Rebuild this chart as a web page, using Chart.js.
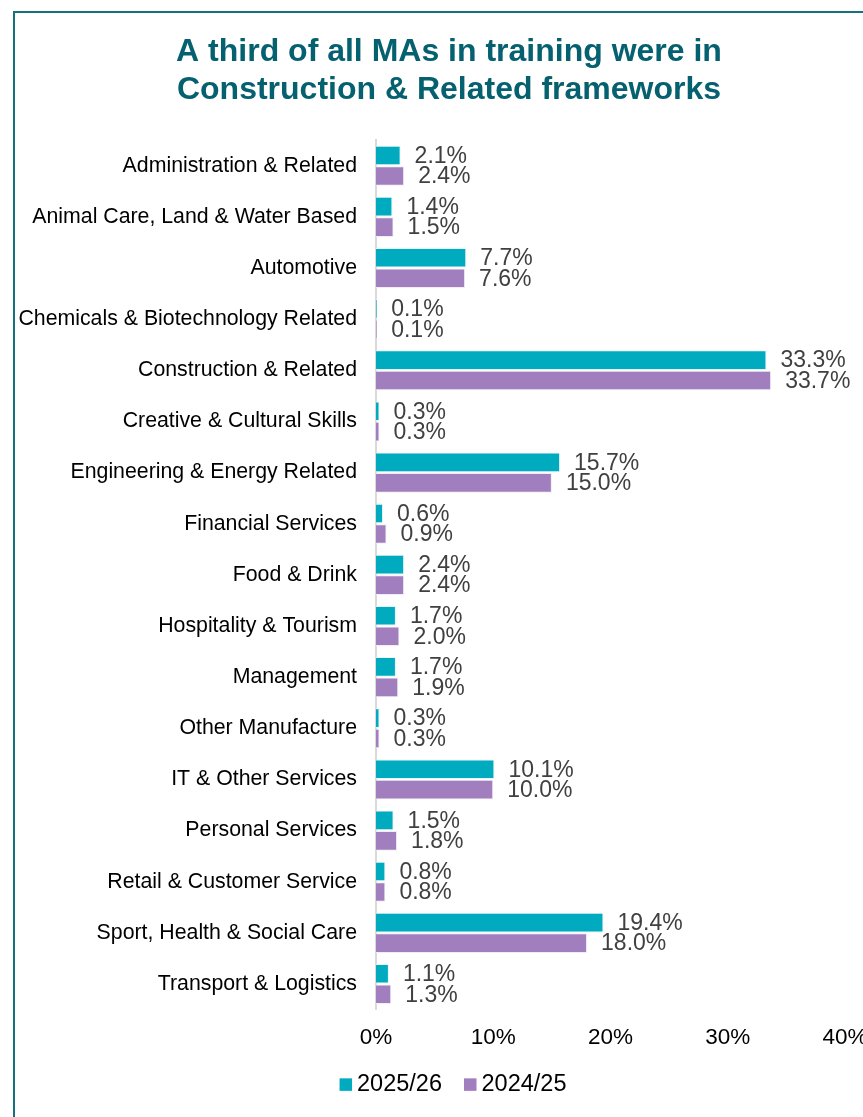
<!DOCTYPE html>
<html>
<head>
<meta charset="utf-8">
<script src="https://cdn.jsdelivr.net/npm/chart.js@4"></script>
<style>
  html, body { margin: 0; padding: 0; background: #fff; }
  #wrap { position: relative; width: 863px; height: 1117px; overflow: hidden; }
  #frame { position: absolute; left: 13px; top: 11px; width: 900px; height: 1200px;
           border-left: 2px solid #16717f; border-top: 2px solid #16717f; }
  canvas { position: absolute; left: 0; top: 0; }
</style>
</head>
<body>
<div id="wrap">
  <div id="frame"></div>
  <canvas id="c" width="863" height="1117"></canvas>
</div>
<script>
const categories = [
  "Administration & Related",
  "Animal Care, Land & Water Based",
  "Automotive",
  "Chemicals & Biotechnology Related",
  "Construction & Related",
  "Creative & Cultural Skills",
  "Engineering & Energy Related",
  "Financial Services",
  "Food & Drink",
  "Hospitality & Tourism",
  "Management",
  "Other Manufacture",
  "IT & Other Services",
  "Personal Services",
  "Retail & Customer Service",
  "Sport, Health & Social Care",
  "Transport & Logistics"
];
const series2025 = [2.1, 1.4, 7.7, 0.1, 33.3, 0.3, 15.7, 0.6, 2.4, 1.7, 1.7, 0.3, 10.1, 1.5, 0.8, 19.4, 1.1];
const series2024 = [2.4, 1.5, 7.6, 0.1, 33.7, 0.3, 15.0, 0.9, 2.4, 2.0, 1.9, 0.3, 10.0, 1.8, 0.8, 18.0, 1.3];
const seriesNames = ["2025/26", "2024/25"];
const xTicks = [0, 10, 20, 30, 40];
const titleLines = ["A third of all MAs in training were in", "Construction & Related frameworks"];

const FONT = "'Liberation Sans', Arial, sans-serif";
const LEGEND_CENTER_X = 453;
const TITLE_LEFT = 53;

const valueLabels = {
  id: 'valueLabels',
  afterDatasetsDraw(chart) {
    const ctx = chart.ctx;
    ctx.save();
    ctx.font = "23px " + FONT;
    ctx.fillStyle = "#404040";
    ctx.textAlign = "left";
    ctx.textBaseline = "middle";
    chart.data.datasets.forEach((ds, di) => {
      const meta = chart.getDatasetMeta(di);
      meta.data.forEach((bar, i) => {
        ctx.fillText(ds.data[i].toFixed(1) + "%", bar.x + 14, bar.y + 1);
      });
    });
    ctx.restore();
  }
};

const titleShift = {
  id: 'titleShift',
  afterLayout(chart) {
    if (chart.titleBlock) chart.titleBlock.left = TITLE_LEFT;
  }
};

const customLegend = {
  id: 'customLegend',
  afterDraw(chart) {
    const ctx = chart.ctx;
    ctx.save();
    ctx.font = "23.5px " + FONT;
    ctx.textBaseline = "middle";
    ctx.textAlign = "left";
    const box = 12.5, gapText = 5, gapItem = 22;
    const items = chart.data.datasets.map(d => ({ label: d.label, color: d.backgroundColor, w: ctx.measureText(d.label).width }));
    const total = items.reduce((s, it) => s + box + gapText + it.w, 0) + gapItem * (items.length - 1);
    let x = LEGEND_CENTER_X - total / 2;
    const y = chart.chartArea.bottom + 74;
    items.forEach(it => {
      ctx.fillStyle = it.color;
      ctx.fillRect(x, y - box / 2 + 1, box, box);
      x += box + gapText;
      ctx.fillStyle = '#000';
      ctx.fillText(it.label, x, y + 1);
      x += it.w + gapItem;
    });
    ctx.restore();
  }
};

new Chart(document.getElementById('c'), {
  type: 'bar',
  data: {
    labels: categories,
    datasets: [
      { label: seriesNames[0], data: series2025, backgroundColor: '#00aabf', borderColor: '#e6f6f8', borderWidth: {top:1,bottom:1,right:1,left:0} },
      { label: seriesNames[1], data: series2024, backgroundColor: '#a17fbe', borderColor: '#f1ecf6', borderWidth: {top:1,bottom:1,right:1,left:0} }
    ]
  },
  options: {
    indexAxis: 'y',
    responsive: false,
    animation: false,
    devicePixelRatio: 1,
    categoryPercentage: 0.8,
    barPercentage: 0.96,
    layout: { padding: { left: 0, right: 18, top: 12, bottom: 50.4 } },
    scales: {
      x: {
        min: 0, max: 40,
        afterBuildTicks(axis) { axis.ticks = xTicks.map(v => ({ value: v })); },
        afterFit(axis) { axis.paddingRight = 0; axis.paddingLeft = 0; },
        grid: { display: false, drawTicks: false },
        border: { display: false },
        ticks: { color: '#000', font: { family: FONT, size: 22.5 }, padding: 15,
                 maxRotation: 0, callback: v => v + '%' }
      },
      y: {
        grid: { display: false, drawTicks: false },
        border: { display: true, color: '#d9d9d9', width: 2 },
        afterFit(axis) { axis.width = 376; },
        ticks: { color: '#000', font: { family: FONT, size: 21.3 }, padding: 19, autoSkip: false }
      }
    },
    plugins: {
      title: {
        display: true,
        text: titleLines,
        color: '#05606f',
        font: { family: FONT, size: 32, weight: 'bold', lineHeight: 1.19 },
        padding: { top: 21, bottom: 31 }
      },
      legend: { display: false },
      tooltip: { enabled: false }
    }
  },
  plugins: [titleShift, valueLabels, customLegend]
});
</script>
</body>
</html>
